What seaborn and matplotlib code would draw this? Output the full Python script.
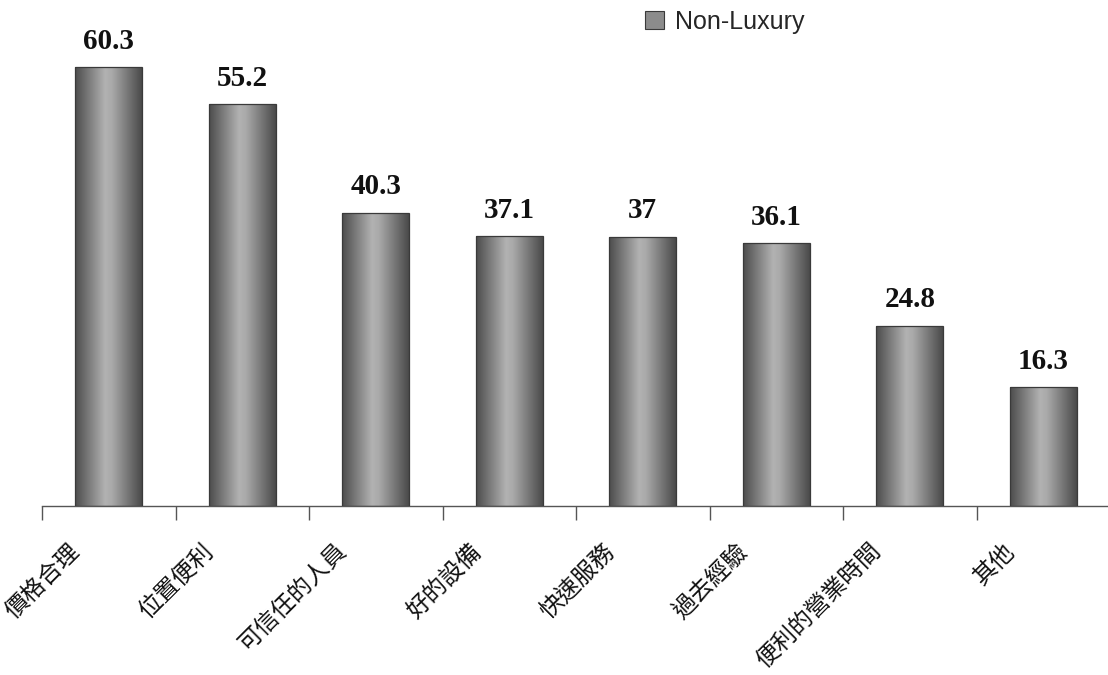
import numpy as np
import pandas as pd
import matplotlib
matplotlib.use("Agg")
import matplotlib.pyplot as plt
from matplotlib.colors import LinearSegmentedColormap
from matplotlib.patches import Patch
import seaborn as sns

# Data
categories = ['價格合理', '位置便利', '可信任的人員', '好的設備', '快速服務', '過去經驗', '便利的營業時間', '其他']
values = [60.3, 55.2, 40.3, 37.1, 37, 36.1, 24.8, 16.3]
series_name = 'Non-Luxury'

df = pd.DataFrame({'cat': categories, 'val': values})

sns.set_style('white')
plt.rcParams['font.family'] = ['Noto Sans CJK TC', 'DejaVu Sans']

fig = plt.figure(figsize=(11.08, 6.75), dpi=100)
ax = fig.add_axes([42 / 1108, 169 / 675, 1068 / 1108, 502 / 675])

sns.barplot(data=df, x='cat', y='val', color='#888888', width=0.5, ax=ax)

# cylinder-like shading on each bar
shade = LinearSegmentedColormap.from_list(
    'cyl', [(0, '#4c4c4c'), (0.45, '#b2b2b2'), (0.55, '#aaaaaa'), (1, '#4a4a4a')])
grad = np.linspace(0, 1, 256).reshape(1, -1)
for bar in ax.patches:
    x0, y0 = bar.get_x(), bar.get_y()
    w, h = bar.get_width(), bar.get_height()
    img = ax.imshow(grad, cmap=shade, aspect='auto', extent=[x0, x0 + w, y0, y0 + h],
                    zorder=bar.get_zorder(), interpolation='bicubic')
    img.set_clip_path(bar)
    bar.set_facecolor('none')
    bar.set_edgecolor('#3a3a3a')
    bar.set_linewidth(0.9)
    bar.set_zorder(3)

ax.set_xlim(-0.5, len(categories) - 0.5)
ax.set_ylim(0, 69)

# value labels
for c in ax.containers:
    ax.bar_label(c, labels=[f'{v:g}' for v in values], padding=9,
                 fontsize=21, fontweight='bold', family='Liberation Serif', color='#111111')

# axes styling
for s in ['left', 'top', 'right']:
    ax.spines[s].set_visible(False)
ax.spines['bottom'].set_color('#555555')
ax.spines['bottom'].set_linewidth(1.0)
ax.set_yticks([])
ax.set_xlabel('')
ax.set_ylabel('')
ax.set_xticks(range(len(categories)))
ax.set_xticks(np.arange(-0.5, len(categories) - 0.5, 1.0), minor=True)
ax.tick_params(axis='x', which='minor', bottom=True, length=10, width=1.0,
               color='#555555', direction='out')
ax.tick_params(axis='x', which='major', bottom=False, length=0, pad=30)
ax.set_xticklabels(categories, rotation=45, ha='right', va='center',
                   rotation_mode='anchor', fontsize=17, color='#111111')
offset = matplotlib.transforms.ScaledTranslation(-32 / 100, 0, fig.dpi_scale_trans)
for lbl in ax.get_xticklabels():
    lbl.set_transform(lbl.get_transform() + offset)

# legend
handle = Patch(facecolor='#8c8c8c', edgecolor='#3a3a3a', linewidth=0.8, label=series_name)
fig.legend(handles=[handle], loc='upper left', bbox_to_anchor=(645 / 1108, 1 - 10 / 675),
           frameon=False, prop={'family': 'Liberation Sans', 'size': 18},
           handlelength=0.75, handleheight=0.75, handletextpad=0.45,
           borderpad=0, borderaxespad=0)

fig.savefig('out.png', dpi=100)
